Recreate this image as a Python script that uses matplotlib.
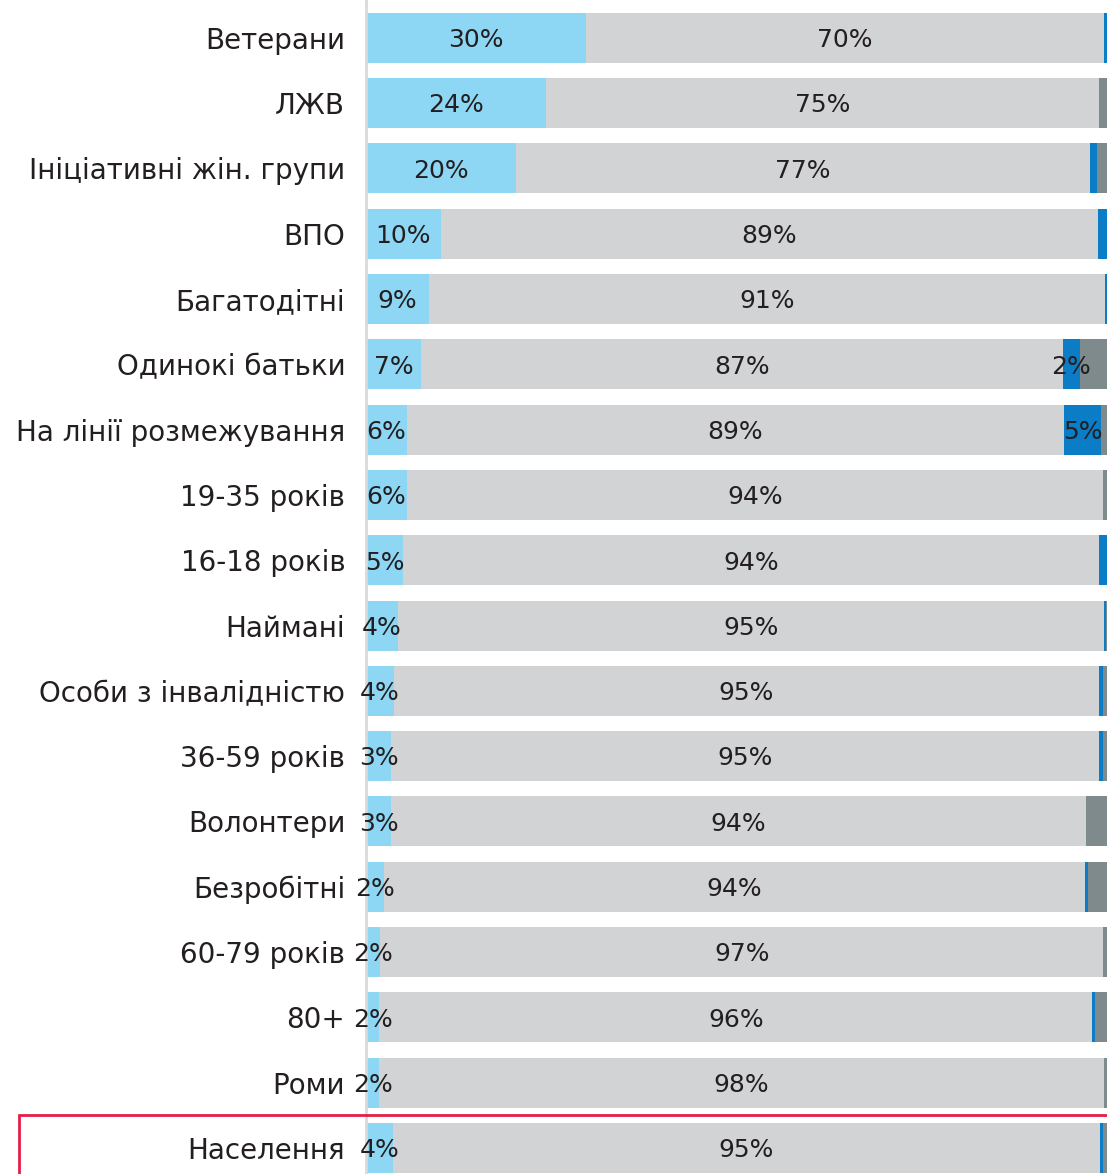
import matplotlib
matplotlib.use("Agg")
import matplotlib.pyplot as plt
import matplotlib.patches as mpatches
import numpy as np

plt.rcParams['font.family'] = ['DejaVu Sans']

categories = ["Ветерани", "ЛЖВ", "Ініціативні жін. групи", "ВПО", "Багатодітні",
              "Одинокі батьки", "На лінії розмежування", "19-35 років", "16-18 років",
              "Наймані", "Особи з інвалідністю", "36-59 років", "Волонтери",
              "Безробітні", "60-79 років", "80+", "Роми", "Населення"]
light_blue = [29.7, 24.3, 20.2, 10.1, 8.5, 7.4, 5.5, 5.5, 5.0, 4.3, 3.8, 3.4, 3.4, 2.4, 1.9, 1.8, 1.8, 3.6]
grey_vals  = [69.9, 74.6, 77.5, 88.7, 91.2, 86.6, 88.7, 94.0, 93.9, 95.3, 95.1, 95.5, 93.7, 94.6, 97.6, 96.2, 97.8, 95.5]
blue_vals  = [0.4, 0.0, 1.0, 1.2, 0.3, 2.3, 5.0, 0.0, 1.1, 0.2, 0.6, 0.5, 0.0, 0.5, 0.0, 0.4, 0.0, 0.3]
dark_vals  = [0.0, 1.1, 1.3, 0.0, 0.0, 3.7, 0.8, 0.5, 0.0, 0.2, 0.5, 0.6, 2.9, 2.5, 0.5, 1.6, 0.4, 0.6]
lb_labels  = ["30%", "24%", "20%", "10%", "9%", "7%", "6%", "6%", "5%", "4%", "4%", "3%", "3%", "2%", "2%", "2%", "2%", "4%"]
gr_labels  = ["70%", "75%", "77%", "89%", "91%", "87%", "89%", "94%", "94%", "95%", "95%", "95%", "94%", "94%", "97%", "96%", "98%", "95%"]
bl_labels  = ["", "", "", "", "", "2%", "5%", "", "", "", "", "", "", "", "", "", "", ""]

C_LB = "#8dd7f5"
C_GR = "#d1d3d4"
C_BL = "#0a7dc6"
C_DK = "#7e8a8c"
TXT = "#231f20"

W, H = 1107, 1174
fig = plt.figure(figsize=(W/100, H/100), dpi=100)
ax = fig.add_axes([366/W, 0, 1 - 366/W, 1])

y = np.arange(len(categories))
lb = np.array(light_blue); gr = np.array(grey_vals); bl = np.array(blue_vals); dk = np.array(dark_vals)
h = 0.766
ax.barh(y, lb, height=h, color=C_LB, linewidth=0)
ax.barh(y, gr, left=lb, height=h, color=C_GR, linewidth=0)
ax.barh(y, bl, left=lb+gr, height=h, color=C_BL, linewidth=0)
ax.barh(y, dk, left=lb+gr+bl, height=h, color=C_DK, linewidth=0)

fs = 18
dy = 0.035
for i in range(len(categories)):
    ax.text(lb[i]/2, y[i] + dy, lb_labels[i], ha='center', va='center', fontsize=fs, color=TXT)
    ax.text(lb[i] + gr[i]/2, y[i] + dy, gr_labels[i], ha='center', va='center', fontsize=fs, color=TXT)
    if bl_labels[i]:
        ax.text(lb[i] + gr[i] + bl[i]/2, y[i] + dy, bl_labels[i], ha='center', va='center', fontsize=fs, color=TXT)

ax.set_xlim(0, 100)
ax.set_ylim(17.4, -0.58)
ax.set_yticks(y)
ax.set_yticklabels(categories, fontsize=20, color=TXT, va='center_baseline')
ax.tick_params(axis='y', length=0, pad=15)
ax.set_xticks([])
for s in ['top', 'right', 'bottom']:
    ax.spines[s].set_visible(False)
ax.spines['left'].set_color('#d9d9d9')
ax.spines['left'].set_linewidth(2)

rect = mpatches.Rectangle((19/W, -0.1), 1.2, (1174-1115)/H + 0.1, transform=fig.transFigure,
                          fill=False, edgecolor='#e21f45', linewidth=2, clip_on=False)
fig.patches.append(rect)

fig.savefig("out.png", dpi=100)
